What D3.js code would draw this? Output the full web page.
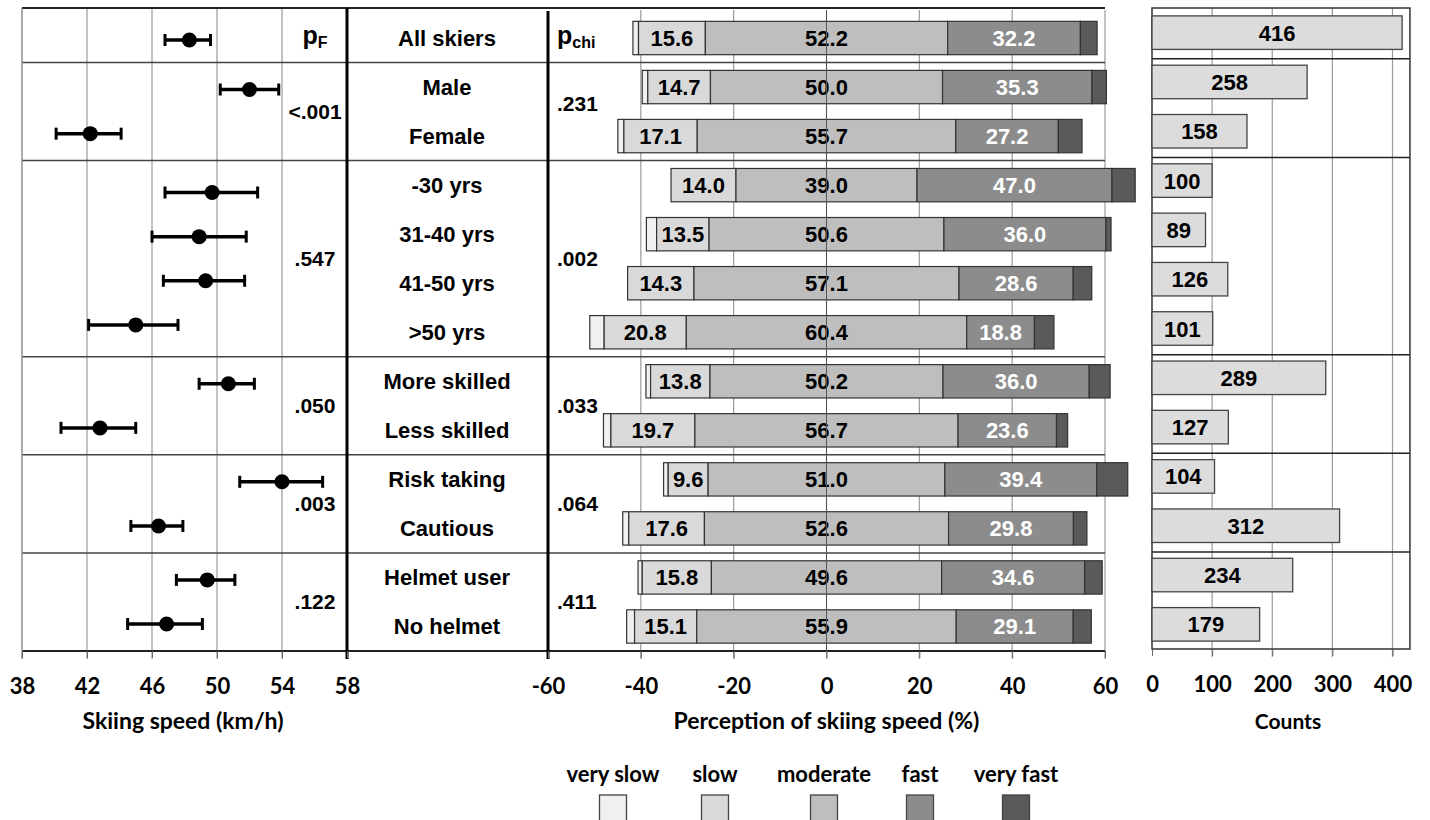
<!DOCTYPE html>
<html>
<head>
<meta charset="utf-8">
<title>Skiing speed and perception</title>
<script src="https://d3js.org/d3.v7.min.js"></script>
<style>
  body { margin: 0; background: #fff; }
  svg { display: block; }
  .arial { font-family: "Liberation Sans", Arial, sans-serif; font-weight: bold; }
  .cal { font-family: Lato, "Open Sans", sans-serif; font-weight: bold; }
</style>
</head>
<body>
<div id="chart"></div>
<script>
// rows of the chart
var categories = ["All skiers", "Male", "Female", "-30 yrs", "31-40 yrs", "41-50 yrs", ">50 yrs",
  "More skilled", "Less skilled", "Risk taking", "Cautious", "Helmet user", "No helmet"];
var groupOf = [0, 1, 1, 2, 2, 2, 2, 3, 3, 4, 4, 5, 5];

// skiing speed, mean and confidence interval (km/h)
var speedMean = [48.3, 52.0, 42.2, 49.7, 48.9, 49.3, 45.0, 50.7, 42.8, 54.0, 46.4, 49.4, 46.9];
var speedLow  = [46.8, 50.2, 40.1, 46.8, 46.0, 46.7, 42.1, 48.9, 40.4, 51.4, 44.7, 47.5, 44.5];
var speedHigh = [49.6, 53.8, 44.1, 52.5, 51.8, 51.7, 47.6, 52.3, 45.0, 56.5, 47.9, 51.1, 49.1];

// p values, one per group (groups 1..5)
var pF   = ["<.001", ".547", ".050", ".003", ".122"];
var pChi = [".231", ".002", ".033", ".064", ".411"];

// perception of skiing speed (%); slow and fast labels include the "very" parts
var verySlowPct = [1.2, 1.2, 1.3, 0.0, 2.2, 0.0, 3.1, 1.0, 1.6, 1.0, 1.3, 0.9, 1.7];
var slowPct     = [15.6, 14.7, 17.1, 14.0, 13.5, 14.3, 20.8, 13.8, 19.7, 9.6, 17.6, 15.8, 15.1];
var moderatePct = [52.2, 50.0, 55.7, 39.0, 50.6, 57.1, 60.4, 50.2, 56.7, 51.0, 52.6, 49.6, 55.9];
var fastPct     = [32.2, 35.3, 27.2, 47.0, 36.0, 28.6, 18.8, 36.0, 23.6, 39.4, 29.8, 34.6, 29.1];
var veryFastPct = [3.6, 3.1, 5.1, 5.0, 1.1, 4.0, 4.2, 4.5, 2.4, 6.7, 2.9, 3.8, 3.9];

// counts
var counts = [416, 258, 158, 100, 89, 126, 101, 289, 127, 104, 312, 234, 179];

// ticks and legend
var speedTicks = [38, 42, 46, 50, 54, 58];
var pctTicks = [-60, -40, -20, 0, 20, 40, 60];
var countTicks = [0, 100, 200, 300, 400];
var legendLabels = ["very slow", "slow", "moderate", "fast", "very fast"];
var legendColors = ["#f0f0f0", "#d9d9d9", "#bebebe", "#8c8c8c", "#5a5a5a"];

var width = 1430, height = 820;
var svg = d3.select("#chart").append("svg")
  .attr("width", width).attr("height", height);

var topY = 8, axisY = 651;

var xSpeed = d3.scaleLinear().domain([38, 58]).range([22, 347]);
var xPct = d3.scaleLinear().domain([-60, 60]).range([548, 1105]);
var xCount = d3.scaleLinear().domain([0, 400]).range([1152, 1392.5]);
var countMax = 429;

var yRow = d3.scaleBand().domain(categories).range([13.5, axisY])
  .paddingInner(0.32).paddingOuter(0.16);
var yCount = d3.scaleBand().domain(categories).range([topY, 649])
  .paddingInner(0.32).paddingOuter(0.16);
var color = d3.scaleOrdinal().domain(legendLabels).range(legendColors);

function rowMid(c) { return yRow(c) + yRow.bandwidth() / 2; }
function groupMid(g) {
  var rows = categories.filter(function(c, i) { return groupOf[i] === g; });
  return (rowMid(rows[0]) + rowMid(rows[rows.length - 1])) / 2;
}

// ---------- grid ----------
var grid = svg.append("g");
speedTicks.slice(0, -1).forEach(function(t) {
  grid.append("line").attr("x1", xSpeed(t)).attr("x2", xSpeed(t))
    .attr("y1", topY).attr("y2", axisY + 8)
    .attr("stroke", "#9a9a9a").attr("stroke-width", 1.2);
});
pctTicks.slice(1).forEach(function(t) {
  grid.append("line").attr("x1", xPct(t)).attr("x2", xPct(t))
    .attr("y1", topY + 2).attr("y2", axisY + 8)
    .attr("stroke", "#9a9a9a").attr("stroke-width", 1.2);
});
countTicks.slice(1).forEach(function(t) {
  grid.append("line").attr("x1", xCount(t)).attr("x2", xCount(t))
    .attr("y1", topY).attr("y2", 657)
    .attr("stroke", "#9a9a9a").attr("stroke-width", 1.2);
});

// horizontal separators between groups
var boundaries = [];
for (var i = 1; i < categories.length; i++) {
  if (groupOf[i] !== groupOf[i - 1]) boundaries.push(i);
}
boundaries.forEach(function(i) {
  var y = yRow(categories[i]) - yRow.step() * yRow.paddingInner() / 2;
  grid.append("line").attr("x1", 22).attr("x2", 1105)
    .attr("y1", y).attr("y2", y).attr("stroke", "#444").attr("stroke-width", 1.5);
  var yc = yCount(categories[i]) - yCount.step() * yCount.paddingInner() / 2 + 1.5;
  grid.append("line").attr("x1", xCount(0)).attr("x2", xCount(countMax))
    .attr("y1", yc).attr("y2", yc).attr("stroke", "#222").attr("stroke-width", 1.5);
});

// borders
grid.append("line").attr("x1", 22).attr("x2", 1105).attr("y1", topY).attr("y2", topY)
  .attr("stroke", "#222").attr("stroke-width", 2);
grid.append("line").attr("x1", 22).attr("x2", 1105).attr("y1", axisY).attr("y2", axisY)
  .attr("stroke", "#222").attr("stroke-width", 2);
grid.append("line").attr("x1", xSpeed(38)).attr("x2", xSpeed(38))
  .attr("y1", topY).attr("y2", axisY + 8).attr("stroke", "#9a9a9a").attr("stroke-width", 1.2);
grid.append("line").attr("x1", xSpeed(58)).attr("x2", xSpeed(58))
  .attr("y1", topY).attr("y2", axisY + 8).attr("stroke", "#000").attr("stroke-width", 3);
grid.append("line").attr("x1", xPct(-60)).attr("x2", xPct(-60))
  .attr("y1", topY + 3).attr("y2", axisY + 8).attr("stroke", "#000").attr("stroke-width", 3);
grid.append("rect").attr("x", xCount(0)).attr("y", topY)
  .attr("width", xCount(countMax) - xCount(0)).attr("height", 649 - topY)
  .attr("fill", "none").attr("stroke", "#333").attr("stroke-width", 1.5);

// ---------- left panel: speed means with CI ----------
var left = svg.append("g");
categories.forEach(function(c, i) {
  var gm = groupMid(groupOf[i]);
  var y = groupOf[i] === 0 ? rowMid(c) + 2 : gm + (rowMid(c) - gm) * 0.9;
  left.append("line").attr("x1", xSpeed(speedLow[i])).attr("x2", xSpeed(speedHigh[i]))
    .attr("y1", y).attr("y2", y).attr("stroke", "#000").attr("stroke-width", 3.5);
  [speedLow[i], speedHigh[i]].forEach(function(v) {
    left.append("line").attr("x1", xSpeed(v)).attr("x2", xSpeed(v))
      .attr("y1", y - 6).attr("y2", y + 6).attr("stroke", "#000").attr("stroke-width", 3);
  });
  left.append("circle").attr("cx", xSpeed(speedMean[i])).attr("cy", y).attr("r", 7.5)
    .attr("fill", "#000");
});

// pF header and values
var pfx = 315;
var pfh = svg.append("text").attr("class", "arial").attr("x", pfx).attr("y", rowMid(categories[0]) + 6)
  .attr("text-anchor", "middle").attr("font-size", 25).attr("fill", "#000");
pfh.append("tspan").text("p");
pfh.append("tspan").attr("font-size", 16).attr("dy", 4).text("F");
pF.forEach(function(p, g) {
  svg.append("text").attr("class", "arial").attr("x", pfx).attr("y", groupMid(g + 1) + 7)
    .attr("text-anchor", "middle").attr("font-size", 21).text(p);
});

// category labels
svg.selectAll(".cat").data(categories).enter().append("text")
  .attr("class", "arial cat").attr("x", 447).attr("y", function(d) { return rowMid(d) + 8; })
  .attr("text-anchor", "middle").attr("font-size", 22).text(function(d) { return d; });

// pchi header and values
var pch = svg.append("text").attr("class", "arial").attr("x", 557).attr("y", rowMid(categories[0]) + 6)
  .attr("font-size", 25);
pch.append("tspan").text("p");
pch.append("tspan").attr("font-size", 16).attr("dy", 4).text("chi");
pChi.forEach(function(p, g) {
  svg.append("text").attr("class", "arial").attr("x", 557)
    .attr("y", groupMid(g + 1) + 7 - (g === 0 ? 8 : 0))
    .attr("font-size", 21).text(p);
});

// ---------- center panel: diverging stacked bars ----------
var center = svg.append("g");
categories.forEach(function(c, i) {
  var half = moderatePct[i] / 2;
  var segs = [
    { key: "very slow", x0: -half - slowPct[i], x1: -half - slowPct[i] + verySlowPct[i] },
    { key: "slow", x0: -half - slowPct[i] + verySlowPct[i], x1: -half, label: slowPct[i], fill: "#000" },
    { key: "moderate", x0: -half, x1: half, label: moderatePct[i], fill: "#000" },
    { key: "fast", x0: half, x1: half + fastPct[i] - veryFastPct[i], label: fastPct[i], fill: "#fff" },
    { key: "very fast", x0: half + fastPct[i] - veryFastPct[i], x1: half + fastPct[i] }
  ];
  var y = yRow(c), h = yRow.bandwidth();
  segs.forEach(function(s) {
    if (s.x1 - s.x0 <= 0) return;
    center.append("rect").attr("x", xPct(s.x0)).attr("y", y)
      .attr("width", xPct(s.x1) - xPct(s.x0)).attr("height", h)
      .attr("fill", color(s.key)).attr("stroke", "#333").attr("stroke-width", 1.2);
  });
  segs.forEach(function(s) {
    if (s.label === undefined) return;
    center.append("text").attr("class", "arial")
      .attr("x", (xPct(s.x0) + xPct(s.x1)) / 2).attr("y", y + h / 2 + 8)
      .attr("text-anchor", "middle").attr("font-size", 22).attr("fill", s.fill)
      .text(d3.format(".1f")(s.label));
  });
});
// zero line drawn over bars
center.append("line").attr("x1", xPct(0)).attr("x2", xPct(0))
  .attr("y1", topY + 2).attr("y2", axisY).attr("stroke", "#555").attr("stroke-width", 1);

// ---------- right panel: counts ----------
var right = svg.append("g");
categories.forEach(function(c, i) {
  right.append("rect").attr("x", xCount(0)).attr("y", yCount(c))
    .attr("width", xCount(counts[i]) - xCount(0)).attr("height", yCount.bandwidth())
    .attr("fill", "#dcdcdc").attr("stroke", "#444").attr("stroke-width", 1.3);
  right.append("text").attr("class", "arial")
    .attr("x", (xCount(0) + xCount(counts[i])) / 2).attr("y", yCount(c) + yCount.bandwidth() / 2 + 8)
    .attr("text-anchor", "middle").attr("font-size", 22).text(counts[i]);
});

// ---------- axes ----------
function axisAt(scale, ticks, y) {
  var a = svg.append("g").attr("transform", "translate(0," + y + ")")
    .call(d3.axisBottom(scale).tickValues(ticks).tickSize(7).tickPadding(20)
      .tickFormat(function(d) { return String(d); }));
  a.select(".domain").remove();
  a.selectAll(".tick line").attr("stroke", "#666");
  a.selectAll(".tick text").attr("class", "cal").attr("font-size", 22).attr("fill", "#000");
  return a;
}
axisAt(xSpeed, speedTicks, axisY);
axisAt(xPct, pctTicks, axisY);
axisAt(xCount, countTicks, 649);

var titles = [
  { text: "Skiing speed (km/h)", x: 183, size: 23 },
  { text: "Perception of skiing speed (%)", x: xPct(0), size: 23 },
  { text: "Counts", x: 1288, size: 21 }
];
titles.forEach(function(t) {
  svg.append("text").attr("class", "cal").attr("x", t.x).attr("y", 729)
    .attr("text-anchor", "middle").attr("font-size", t.size).text(t.text);
});

// ---------- legend ----------
var legendX = [613, 715, 824, 920, 1016];
legendLabels.forEach(function(l, i) {
  svg.append("text").attr("class", "cal").attr("x", legendX[i]).attr("y", 782)
    .attr("text-anchor", "middle").attr("font-size", 22).text(l);
  svg.append("rect").attr("x", legendX[i] - 13.5).attr("y", 795)
    .attr("width", 27).attr("height", 30)
    .attr("fill", color(l)).attr("stroke", "#444").attr("stroke-width", 1.3);
});
</script>
</body>
</html>
